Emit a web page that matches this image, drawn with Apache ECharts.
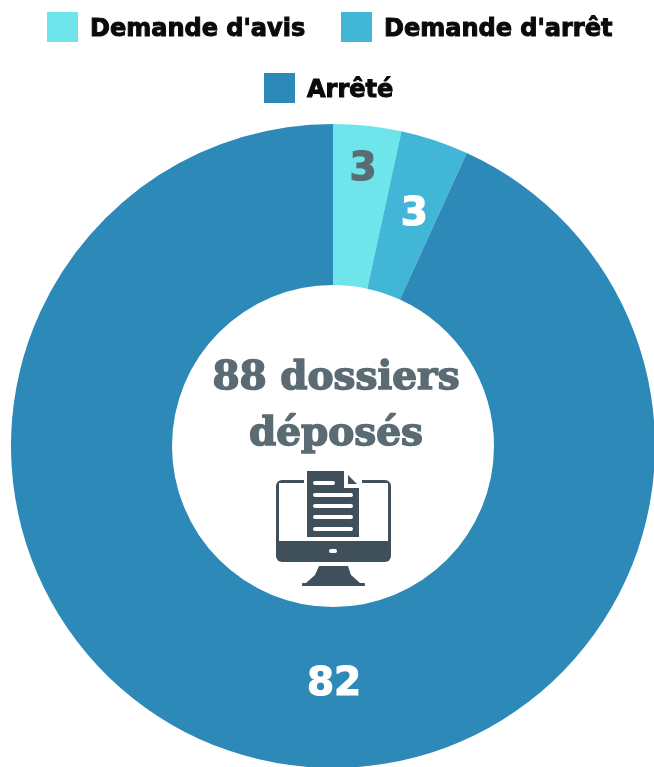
<!DOCTYPE html>
<html><head><meta charset="utf-8">
<style>html,body{margin:0;padding:0;background:#fff}#c{width:654px;height:767px}</style>
<script src="https://cdn.jsdelivr.net/npm/echarts@6/dist/echarts.min.js"></script>
</head><body><div id="c"></div>
<script>
const categories = ["Demande d'avis", "Demande d'arrêt", "Arrêté"];
const values = [3, 3, 82];
const colors = ["#6DE5EA", "#42B6D6", "#2C89B8"];
const labelColors = ["#5A6B74", "#FFFFFF", "#FFFFFF"];
const labelShift = [[4, -33], [4, 1], [53, 0]];
const centerLines = ["88 dossiers", "déposés"];
const legendPos = [[47, 12], [341, 12], [264, 73]];

const ink = "#3F505B";
const fontLegend = "'DejaVu Sans'";
const fontCenter = "'DejaVu Serif'";
const chart = echarts.init(document.getElementById('c'));
const rect = (x, y, w, h, fill, r) => ({type:'rect', shape:{x, y, width:w, height:h, r:r||0}, style:{fill}});
const poly = (points, fill) => ({type:'polygon', shape:{points}, style:{fill}});
const legendText = {fontFamily:fontLegend, fontWeight:'bold', fontSize:24, color:'#0a0a0a',
  textBorderColor:'#0a0a0a', textBorderWidth:1};
chart.setOption({
  animation:false,
  backgroundColor:'#fff',
  legend: categories.map((c,i)=>({
    data:[c], left:legendPos[i][0], top:legendPos[i][1], orient:'horizontal', padding:0,
    icon:'rect', itemWidth:31, itemHeight:30, itemGap:0, selectedMode:false,
    formatter:'{a|{name}}',
    textStyle:Object.assign({}, legendText, {rich:{a:Object.assign({}, legendText, {padding:[6,0,0,7]})}})
  })),
  series:[{
    type:'pie', center:[333,446], radius:[161,322], startAngle:90, clockwise:true,
    silent:true, labelLine:{show:false},
    data: categories.map((c,i)=>({name:c, value:values[i],
      itemStyle:{color:colors[i]},
      label:{color:labelColors[i], textBorderColor:labelColors[i], textBorderWidth:1.2}})),
    label:{show:true, position:'inside', formatter:'{c}', fontFamily:"'DejaVu Sans'", fontWeight:'bold', fontSize:39},
    labelLayout:(p)=>({dx:labelShift[p.dataIndex][0], dy:labelShift[p.dataIndex][1]})
  }],
  graphic:{elements:[
    {type:'text', x:336, y:379, style:{text:centerLines[0], fontFamily:fontCenter, fontWeight:'bold', fontSize:39, fill:'#5A6B74', stroke:'#5A6B74', lineWidth:1.5, textAlign:'center', textVerticalAlign:'middle'}},
    {type:'text', x:336, y:435, style:{text:centerLines[1], fontFamily:fontCenter, fontWeight:'bold', fontSize:39, fill:'#5A6B74', stroke:'#5A6B74', lineWidth:1.5, textAlign:'center', textVerticalAlign:'middle'}},
    // icon: monitor + document
    rect(276,480,115,82,ink,6),
    rect(279,483,109,58,'#fff'),
    rect(304,470,58,20,'#fff'),
    poly([[307,471],[344,471],[344,488],[359,488],[359,537],[307,537]],ink),
    poly([[348,475],[357,484],[348,484]],ink),
    rect(313,481,22,4,'#fff',2),
    rect(313,493,40,4,'#fff',2),
    rect(313,504,40,4,'#fff',2),
    rect(313,515,40,4,'#fff',2),
    rect(313,527,40,4,'#fff',2),
    rect(329,549,8,4,'#fff',2),
    poly([[319,566],[348,566],[351,575],[360,583],[306,583],[315,575]],ink),
    rect(302,583,63,3,ink,1)
  ]}
});
</script></body></html>
